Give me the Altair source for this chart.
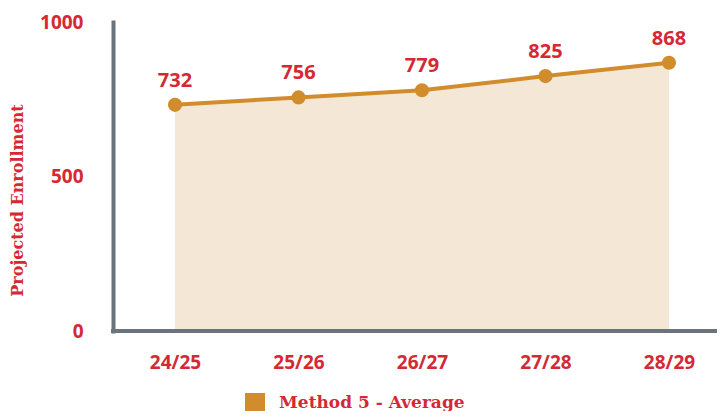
import altair as alt
import pandas as pd

years = ["24/25", "25/26", "26/27", "27/28", "28/29"]
values = [732, 756, 779, 825, 868]
series_name = "Method 5 - Average"

df = pd.DataFrame({"year": years, "value": values, "series": [series_name] * len(years)})

RED = "#d42935"
ORANGE = "#d18d2c"
FILL = "#f5e7d5"
GRAY = "#6b747c"

x_enc = alt.X(
    "year:N",
    sort=years,
    scale=alt.Scale(type="point", range=[62, 556], padding=0),
    axis=alt.Axis(
        title=None, labelAngle=0, ticks=False, grid=False, domain=False,
        labelColor=RED, labelFont="Open Sans", labelFontWeight="bold",
        labelFontSize=19, labelPadding=22,
    ),
)
y_enc = alt.Y(
    "value:Q",
    scale=alt.Scale(domain=[0, 1000], nice=False),
    axis=alt.Axis(
        title="Projected Enrollment", values=[0, 500, 1000], format="d",
        ticks=False, grid=False,
        domainColor=GRAY, domainWidth=4, domainCap="square",
        labelColor=RED, labelFont="Open Sans", labelFontWeight="bold",
        labelFontSize=19, labelPadding=30,
        titleColor=RED, titleFont="DejaVu Serif", titleFontWeight="bold",
        titleFontSize=16, titleX=-96, titleY=178, titleAngle=270,
        titleAlign="center", titleBaseline="middle",
    ),
)

base = alt.Chart(df)

area = base.mark_area(color=FILL, opacity=1).encode(x=x_enc, y=y_enc)
xline = base.mark_rule(color=GRAY, strokeWidth=4, strokeCap="square").encode(
    x=alt.value(0), x2=alt.value(612), y=alt.value(309)
)
line = base.mark_line(color=ORANGE, strokeWidth=4).encode(x=x_enc, y=y_enc)
points = base.mark_point(filled=True, size=200, opacity=1).encode(
    x=x_enc, y=y_enc,
    color=alt.Color(
        "series:N",
        scale=alt.Scale(domain=[series_name], range=[ORANGE]),
        legend=alt.Legend(
            title=None, orient="none", legendX=132, legendY=371,
            symbolType="square", symbolSize=400, symbolStrokeWidth=0,
            symbolFillColor=ORANGE, labelColor=RED, labelFont="DejaVu Serif",
            labelFontWeight="bold", labelFontSize=17, labelOffset=14, padding=0,
            labelLimit=0,
        ),
    ),
)
labels = base.mark_text(
    dy=-24, color=RED, font="Open Sans", fontWeight="bold", fontSize=20
).encode(x=x_enc, y=y_enc, text="value:Q")

chart = (
    alt.layer(area, xline, line, points, labels)
    .properties(
        width=604, height=309,
        autosize=alt.AutoSizeParams(type="none"),
        padding={"left": 105, "top": 14, "right": 0, "bottom": 80},
    )
    .configure_view(stroke=None)
)

chart.save("out.html", embed_options={"renderer": "svg", "actions": False})
